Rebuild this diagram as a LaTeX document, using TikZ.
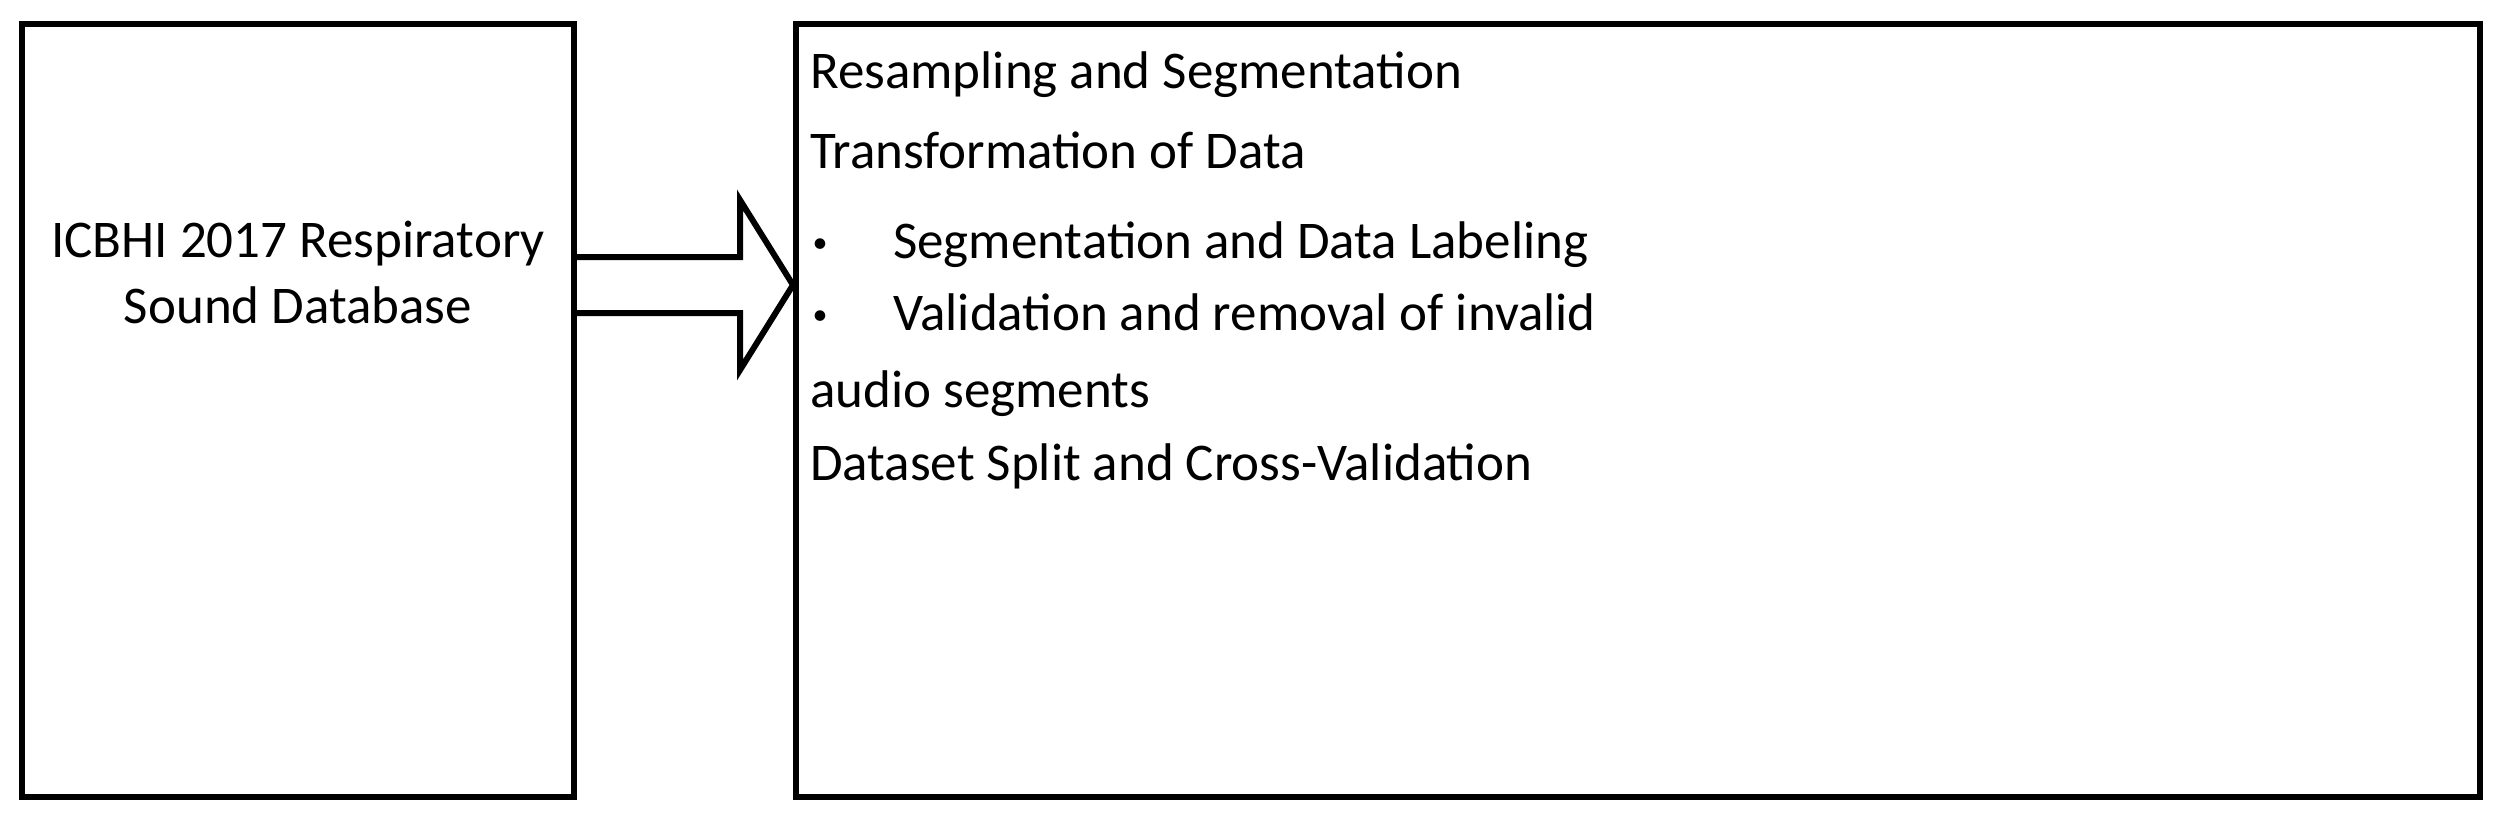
\documentclass[tikz,border=0pt]{standalone}
\usepackage{fontspec}
\setmainfont{Carlito}
\begin{document}
\begin{tikzpicture}[x=1pt,y=-1pt,
  box/.style={draw,line width=6pt},
  txt/.style={inner sep=0pt,anchor=base west,font=\fontsize{53}{60}\selectfont},
  bul/.style={inner sep=0pt,anchor=base,font=\fontsize{30}{36}\selectfont}]
\useasboundingbox (0,0) rectangle (2502,822);
\draw[box] (22,24) rectangle (574,797);
\draw[box] (796,24) rectangle (2480,797);
\node[inner sep=0pt,align=center,font=\fontsize{53}{66}\selectfont] (src) at (298,272) {ICBHI 2017 Respiratory\\Sound Database};
\coordinate (tip) at (793,285);
\draw[line width=6pt,line join=miter] (577,257) -- (740,257) -- (740,200) -- (tip) -- (740,370) -- (740,313) -- (577,313);
\node[txt] (a) at (810,88) {Resampling and Segmentation};
\node[txt] (b) at (810,168) {Transformation of Data};
\node[bul] at (820,252) {•};
\node[txt] (c) at (893,258) {Segmentation and Data Labeling};
\node[bul] at (820,324) {•};
\node[txt] (d) at (893,330) {Validation and removal of invalid};
\node[txt] (e) at (810,407) {audio segments};
\node[txt] (f) at (810,480) {Dataset Split and Cross-Validation};
\end{tikzpicture}
\end{document}
